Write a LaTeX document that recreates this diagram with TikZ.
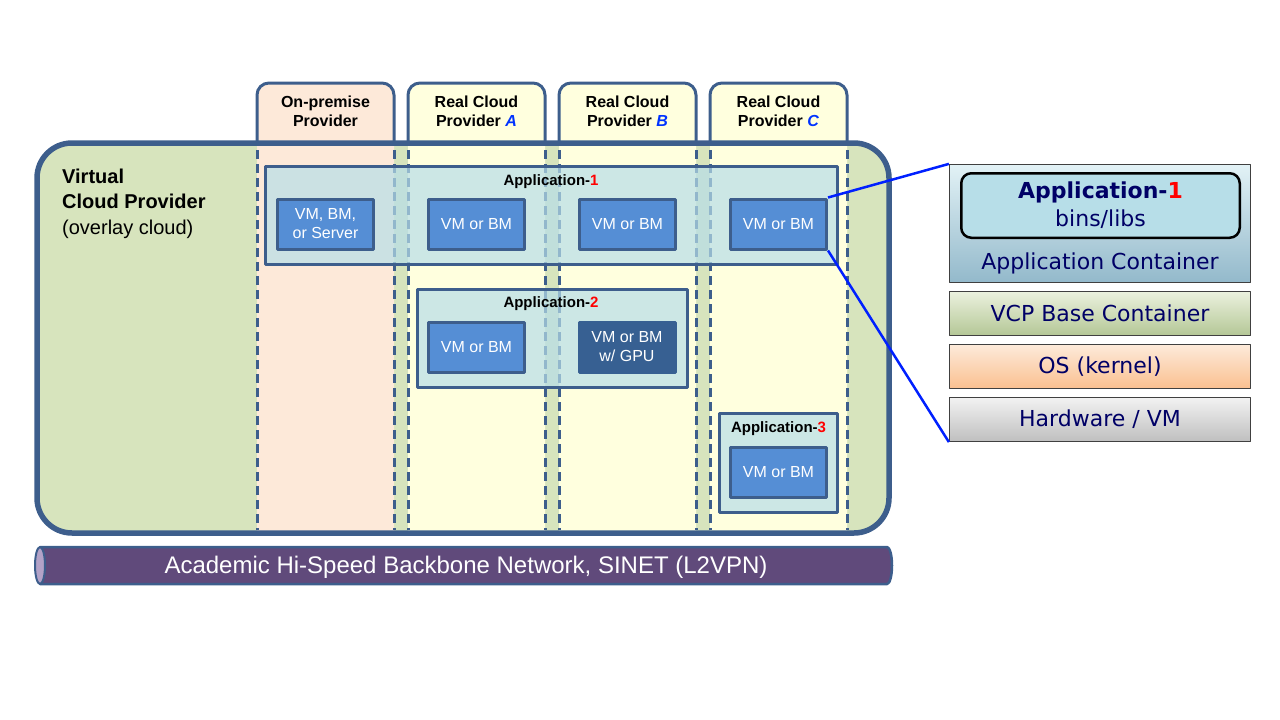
\documentclass[tikz,border=0pt]{standalone}
\usepackage{fontspec}
\setmainfont{Liberation Sans}
\newfontfamily\stackfont{DejaVu Sans}
\usetikzlibrary{positioning}
\definecolor{vcpgreen}{RGB}{215,228,189}
\definecolor{vcpline}{RGB}{61,94,140}
\definecolor{onprem}{RGB}{253,233,217}
\definecolor{realcloud}{RGB}{255,255,222}
\definecolor{appteal}{RGB}{183,222,232}
\definecolor{vmblue}{RGB}{85,142,213}
\definecolor{gpublue}{RGB}{55,96,146}
\definecolor{sinet}{RGB}{96,74,123}
\definecolor{sinetend}{RGB}{179,162,199}
\definecolor{navytext}{RGB}{0,0,102}
\definecolor{letterblue}{RGB}{0,51,255}
\definecolor{linkblue}{RGB}{0,32,255}
\newcommand\cloudletter[1]{\textcolor{letterblue}{\textit{#1}}}
\tikzset{
  vm/.style={draw=vcpline,line width=3pt,fill=vmblue,text=white,
    minimum width=96pt,minimum height=50pt,inner sep=0pt,align=center,
    font=\fontsize{16}{19}\selectfont},
  appbox/.style={draw=vcpline,line width=3pt,fill=appteal,fill opacity=0.7,
    inner sep=0pt},
  applabel/.style={font=\fontsize{15}{18}\selectfont\bfseries,inner sep=0pt},
  layer/.style={draw=black!75,line width=1.2pt,minimum width=301pt,
    minimum height=44pt,inner sep=0pt,text=navytext,
    font=\stackfont\fontsize{22}{26}\selectfont},
}
\begin{document}
\begin{tikzpicture}[x=1pt,y=-1pt,line join=round]
\useasboundingbox (0,0) rectangle (1280,720);
% virtual cloud provider
\fill[vcpgreen,rounded corners=35pt] (37,143) rectangle (889,533);
\foreach \xl/\col in {257/onprem,408/realcloud,559/realcloud,710/realcloud}
  \fill[\col,rounded corners=12pt] (\xl,531) -- (\xl,83) -- ({\xl+137},83) -- ({\xl+137},531);
\draw[vcpline,line width=5.5pt,rounded corners=35pt] (37,143) rectangle (889,533);
% provider tabs
\foreach \xl/\name/\txt in {257/onprem/{On-premise\\Provider},
    408/cloud-a/{Real Cloud\\Provider \cloudletter{A}},
    559/cloud-b/{Real Cloud\\Provider \cloudletter{B}},
    710/cloud-c/{Real Cloud\\Provider \cloudletter{C}}}{
  \draw[vcpline,line width=3pt,rounded corners=12pt] (\xl,145) -- (\xl,83) -- ({\xl+137},83) -- ({\xl+137},145);
  \draw[vcpline,line width=3pt,dash pattern=on 9pt off 5pt] (\xl,150) -- (\xl,530) ({\xl+137},150) -- ({\xl+137},530);
  \node[align=center,inner sep=0pt,font=\fontsize{16}{19}\selectfont\bfseries] (\name) at ({\xl+68.5},111) {\txt};
}
\node[anchor=base west,align=left,inner sep=0pt,font=\fontsize{20}{25.5}\selectfont] (vcp-title) at (62,234) {\textbf{Virtual}\\\textbf{Cloud Provider}\\(overlay cloud)};
% applications
\node[appbox,minimum width=572pt,minimum height=98pt] (app1) at (551.5,215.5) {};
\node[appbox,minimum width=270pt,minimum height=98pt] (app2) at (552.5,338.5) {};
\node[appbox,minimum width=118pt,minimum height=99pt] (app3) at (778.5,463) {};
\node[applabel] (app1-label) at (551,181.5) {Application-\textcolor{red}{1}};
\node[applabel] (app2-label) at (551,303.5) {Application-\textcolor{red}{2}};
\node[applabel] (app3-label) at (778.5,428.5) {Application-\textcolor{red}{3}};
\node[vm] (vm-onprem) at (325.5,224) {VM, BM,\\or Server};
\node[vm] (vm-a1) at (476.5,224) {VM or BM};
\node[vm] (vm-b1) at (627.5,224) {VM or BM};
\node[vm] (vm-c1) at (778.5,224) {VM or BM};
\node[vm] (vm-a2) at (476.5,347) {VM or BM};
\node[vm,draw=gpublue,fill=gpublue] (vm-gpu) at (627,347) {VM or BM\\w/ GPU};
\node[vm] (vm-c3) at (778.5,472) {VM or BM};
% backbone
\draw[vcpline,line width=2.5pt,fill=sinet] (40,547) -- (887,547)
  arc[start angle=-90,end angle=90,x radius=5,y radius=18.5] -- (40,584) -- cycle;
\draw[vcpline,line width=2pt,fill=sinetend] (40,565.5) ellipse[x radius=5,y radius=18.5];
\node[text=white,font=\fontsize{24}{28}\selectfont] (sinet) at (466,567.5) {Academic Hi-Speed Backbone Network, SINET (L2VPN)};
% container stack
\node[layer,minimum height=118pt,top color=appteal!40!white,bottom color={rgb,255:red,147;green,185;blue,203}] (appct) at (1100,223.5) {};
\node[draw=black,line width=2.5pt,rounded corners=10pt,fill=appteal,minimum width=278.5pt,minimum height=64.5pt,
  inner sep=0pt,align=center,text=navytext,font=\stackfont\fontsize{22}{28}\selectfont] (bins) at (1100.5,205.5)
  {\textbf{Application-\textcolor{red}{1}}\\bins/libs};
\node[text=navytext,inner sep=0pt,font=\stackfont\fontsize{22}{26}\selectfont] (appct-label) at (1100,263) {Application Container};
\node[layer,top color={rgb,255:red,235;green,241;blue,222},bottom color={rgb,255:red,180;green,199;blue,150}] (vcp) at (1100,313.5) {VCP Base Container};
\node[layer,top color={rgb,255:red,253;green,234;blue,218},bottom color={rgb,255:red,250;green,192;blue,144}] (os) at (1100,366.5) {OS (kernel)};
\node[layer,top color={rgb,255:red,242;green,242;blue,242},bottom color={rgb,255:red,191;green,191;blue,191}] (hw) at (1100,419.5) {Hardware / VM};
\draw[linkblue,line width=2.5pt] (vm-c1.north east) -- (appct.north west);
\draw[linkblue,line width=2.5pt] (vm-c1.south east) -- (hw.south west);
\end{tikzpicture}
\end{document}
